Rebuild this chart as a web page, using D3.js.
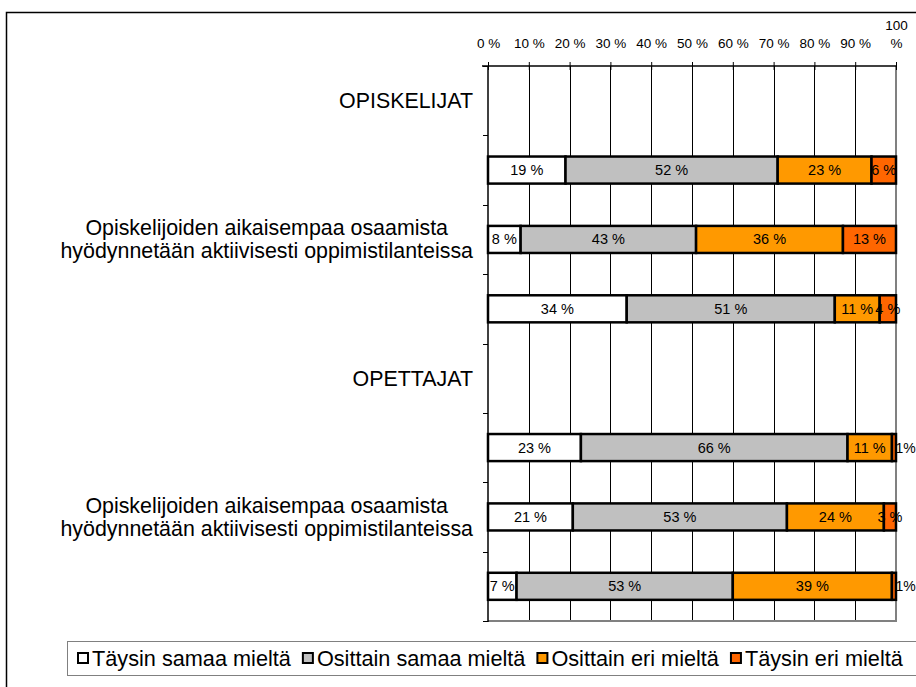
<!DOCTYPE html>
<html>
<head>
<meta charset="utf-8">
<script src="https://cdn.jsdelivr.net/npm/d3@7"></script>
<style>
  html, body { margin: 0; padding: 0; background: #fff; }
  svg { display: block; font-family: "Liberation Sans", Arial, sans-serif; }
</style>
</head>
<body>
<svg id="chart" width="916" height="687"></svg>
<script>
// ---- Data ----
const longLabel = "Opiskelijoiden aikaisempaa osaamista\nhyödynnetään aktiivisesti oppimistilanteissa";
const categories = ["OPISKELIJAT", "", longLabel, "", "OPETTAJAT", "", longLabel, ""];
const seriesNames = ["Täysin samaa mieltä", "Osittain samaa mieltä", "Osittain eri mieltä", "Täysin eri mieltä"];
const taysinSamaa   = [null, 19,  8, 34, null, 23, 21,  7];
const osittainSamaa = [null, 52, 43, 51, null, 66, 53, 53];
const osittainEri   = [null, 23, 36, 11, null, 11, 24, 39];
const taysinEri     = [null,  6, 13,  4, null,  1,  3,  1];
const tickValues = [0, 0.1, 0.2, 0.3, 0.4, 0.5, 0.6, 0.7, 0.8, 0.9, 1.0];
const tickLabels = ["0 %", "10 %", "20 %", "30 %", "40 %", "50 %", "60 %", "70 %", "80 %", "90 %", "100\n%"];
const colors = ["#FFFFFF", "#C0C0C0", "#FF9900", "#FF6600"];

(function () {
// ---- Build table ----
const keys = ["s0", "s1", "s2", "s3"];
const seriesArrays = [taysinSamaa, osittainSamaa, osittainEri, taysinEri];
const rows = categories.map((c, i) => {
  const r = { id: "c" + i, label: c, empty: taysinSamaa[i] === null };
  keys.forEach((k, j) => r[k] = seriesArrays[j][i] === null ? 0 : seriesArrays[j][i]);
  return r;
});

const svg = d3.select("#chart");
const pLeft = 488, pRight = 896, pTop = 66, pBottom = 621;

const x = d3.scaleLinear().domain([0, 1]).range([pLeft, pRight]);
const y = d3.scaleBand().domain(rows.map(r => r.id)).range([pTop, pBottom])
  .paddingInner(0.61).paddingOuter(0.305);
const step = y.step();

// outer border
svg.append("rect").attr("x", 6.5).attr("y", 12.5).attr("width", 1000).attr("height", 1000)
  .attr("fill", "none").attr("stroke", "#000").attr("stroke-width", 1.5);

// gridlines
svg.append("g").selectAll("line").data(tickValues.filter(t => t > 0 && t < 1)).join("line")
  .attr("x1", d => Math.round(x(d)) + 0.5).attr("x2", d => Math.round(x(d)) + 0.5)
  .attr("y1", pTop).attr("y2", pBottom)
  .attr("stroke", "#000").attr("stroke-width", 1);

// plot right & bottom border (gray)
svg.append("line").attr("x1", x(1)).attr("x2", x(1)).attr("y1", pTop).attr("y2", pBottom + 1)
  .attr("stroke", "#808080").attr("stroke-width", 2);
svg.append("line").attr("x1", pLeft).attr("x2", x(1) + 1).attr("y1", pBottom).attr("y2", pBottom)
  .attr("stroke", "#808080").attr("stroke-width", 2);

// top axis
const xAxis = d3.axisTop(x).tickValues(tickValues).tickSize(4).tickSizeOuter(0).tickFormat("");
const gx = svg.append("g").attr("transform", `translate(0,${pTop})`).call(xAxis);
gx.select(".domain").attr("stroke", "#000").attr("stroke-width", 1.5)
  .attr("d", `M${pLeft - 6},0H${pRight}`);
gx.selectAll(".tick line").attr("y1", 4).attr("y2", -4).attr("stroke", "#000");
gx.selectAll(".tick").each(function(d, i) {
  const lines = tickLabels[i].split("\n");
  const t = d3.select(this).append("text").attr("fill", "#000").attr("text-anchor", "middle")
    .attr("font-size", "13.5px").attr("font-family", "Liberation Sans, Arial, sans-serif");
  lines.forEach((ln, k) => {
    t.append("tspan").attr("x", 0).attr("y", -18 - (lines.length - 1 - k) * 18).text(ln);
  });
});

// left axis
const boundaries = d3.range(rows.length + 1).map(i => pTop + i * step);
svg.append("line").attr("x1", pLeft).attr("x2", pLeft).attr("y1", pTop).attr("y2", pBottom + 1)
  .attr("stroke", "#000").attr("stroke-width", 1.5);
svg.append("g").selectAll("line").data(boundaries).join("line")
  .attr("x1", pLeft - 5).attr("x2", pLeft).attr("y1", d => Math.round(d) + 0.5).attr("y2", d => Math.round(d) + 0.5)
  .attr("stroke", "#000").attr("stroke-width", 1);

// category labels
const catG = svg.append("g").attr("font-size", "21.4px").attr("fill", "#000");
rows.forEach(r => {
  if (!r.label) return;
  const lines = r.label.split("\n");
  const cy = y(r.id) + y.bandwidth() / 2;
  const t = catG.append("text").attr("text-anchor", "middle");
  const spans = lines.map((ln, k) => t.append("tspan").text(ln)
    .attr("y", cy + (k - (lines.length - 1) / 2) * 23 + 7.5));
  const maxW = d3.max(spans, s => s.node().getComputedTextLength());
  spans.forEach(s => s.attr("x", pLeft - 15 - maxW / 2));
});

// stacked bars
const stack = d3.stack().keys(keys).offset(d3.stackOffsetExpand);
const stacked = stack(rows.filter(r => !r.empty));
const barG = svg.append("g");
stacked.forEach((layer, j) => {
  barG.selectAll(null).data(layer).join("rect")
    .attr("x", d => x(d[0])).attr("width", d => x(d[1]) - x(d[0]))
    .attr("y", d => y(d.data.id)).attr("height", y.bandwidth())
    .attr("fill", colors[j]).attr("stroke", "#000").attr("stroke-width", 2.5);
});
// labels
const labG = svg.append("g").attr("font-size", "14.5px").attr("fill", "#000");
stacked.forEach((layer, j) => {
  layer.forEach(d => {
    const v = d.data[keys[j]];
    const w = x(d[1]) - x(d[0]);
    const cy = y(d.data.id) + y.bandwidth() / 2 + 5;
    if (w < 8) {
      labG.append("text").attr("x", x(d[1]) - 0.5).attr("y", cy).attr("text-anchor", "start")
        .attr("font-size", "14px").text(v + "%");
    } else {
      labG.append("text").attr("x", (x(d[0]) + x(d[1])) / 2).attr("y", cy).attr("text-anchor", "middle").text(v + " %");
    }
  });
});

// legend
const legY = 641, legH = 34;
svg.append("rect").attr("x", 67.5).attr("y", legY + 0.5).attr("width", 900).attr("height", legH)
  .attr("fill", "#fff").attr("stroke", "#808080").attr("stroke-width", 1);
const legG = svg.append("g").attr("font-size", "21.7px");
let lx = 77;
seriesNames.forEach((name, j) => {
  legG.append("rect").attr("x", lx + 1).attr("y", legY + legH / 2 - 5).attr("width", 10).attr("height", 10)
    .attr("fill", colors[j]).attr("stroke", "#000").attr("stroke-width", 2);
  const t = legG.append("text").attr("x", lx + 15).attr("y", legY + legH / 2 + 7.5).text(name);
  lx = lx + 15 + t.node().getComputedTextLength() + 11;
});
})();
</script>
</body>
</html>
